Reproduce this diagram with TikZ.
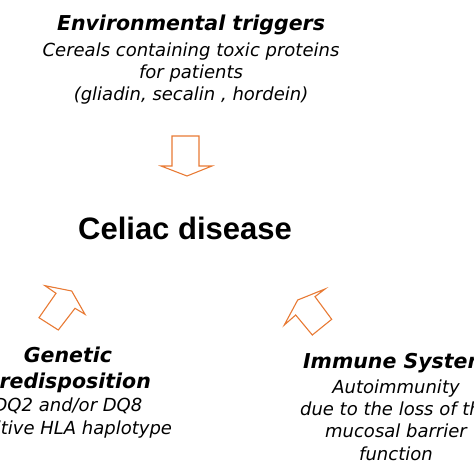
\documentclass[tikz,border=0pt]{standalone}
\usepackage{fontspec}
\setmainfont{DejaVu Sans}
\newfontfamily\arialfont{Liberation Sans}
\definecolor{arroworange}{RGB}{232,122,52}
\begin{document}
\begin{tikzpicture}[x=1pt,y=-1pt,
	title/.style={font=\fontsize{20.5}{26}\selectfont\bfseries\itshape, align=center},
	body/.style={font=\fontsize{18}{22.3}\selectfont\itshape, align=center},
	blockarrow/.style={draw=arroworange, line width=1.1pt, line join=miter}]
			\tikzstyle{every node}+=[inner sep=0pt]
			\useasboundingbox (0,0) rectangle (474,474);
			% environment
			\node[title] (envtitle) at (191,25) {Environmental triggers};
			\node[body] (envtext) at (191,73.5) {Cereals containing toxic proteins\\for patients\\(gliadin, secalin , hordein)};
			\draw [blockarrow] (172,136) -- (199,136) -- (199,166) -- (212,166) -- (187,176) -- (161,166) -- (172,166) -- cycle;
			% disease
			\node (celiac) at (185,228) {\arialfont\fontsize{31}{36}\selectfont\bfseries Celiac disease};
			% genetics
			\draw [blockarrow] (45,285.7) -- (71.7,291) -- (85,314.3) -- (75,308.3) -- (58.3,330) -- (39,317.7) -- (56,293.3) -- cycle;
			\node[title] (gentitle) at (68,370) {Genetic\\Predisposition};
			\node[body] (gentext) at (68,418) {DQ2 and/or DQ8\\positive HLA haplotype};
			% immune system
			\draw [blockarrow] (325,289) -- (315,296.7) -- (331.7,319.3) -- (312.3,335) -- (295.7,315) -- (284.3,325) -- (297.7,300) -- cycle;
			\node[title] (immtitle) at (396,363) {Immune System};
			\node[body] (immtext) at (396,420) {Autoimmunity\\due to the loss of the\\mucosal barrier\\function};
		\end{tikzpicture}
\end{document}
